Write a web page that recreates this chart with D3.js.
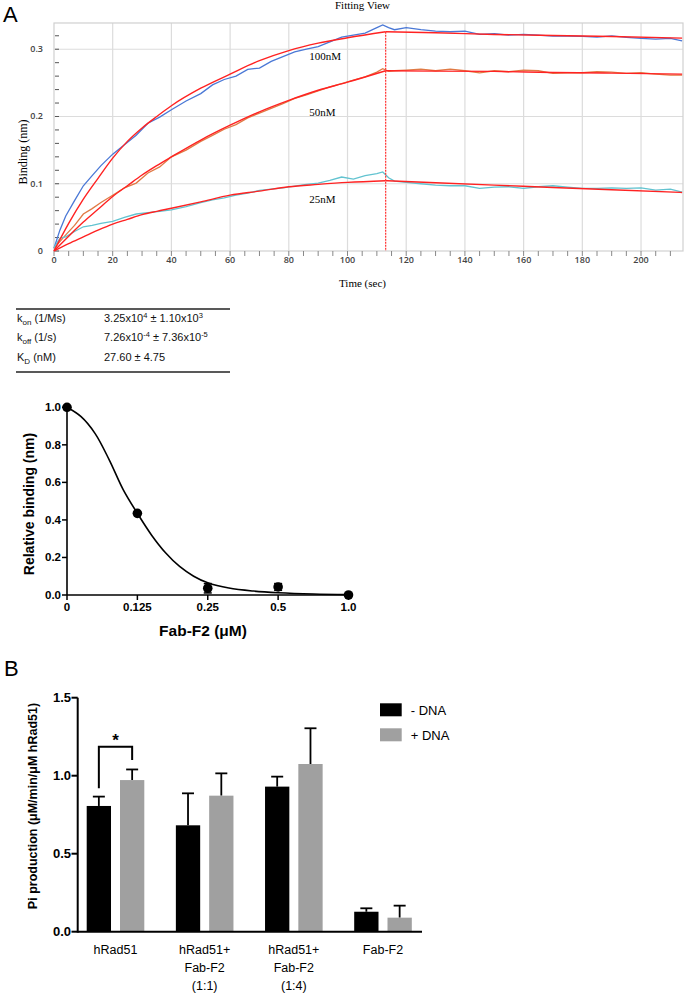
<!DOCTYPE html>
<html><head><meta charset="utf-8">
<script src="https://cdn.jsdelivr.net/npm/d3@7"></script>
<style>body{margin:0;background:#fff}svg{display:block}</style>
</head><body>
<svg id="c" width="685" height="993"></svg>
<script>
// ---------- Panel A (kinetics) data ----------
const kinT = [0,2,4,7,10,13,16,20,24,28,32,36,40,45,50,54,58,62,66,70,74,78,82,86,90,94,98,102,106,110,112,114,116,120,125,130,135,140,145,150,155,160,165,170,175,180,185,190,195,200,205,210,214];
const raw100 = [0.004,0.031,0.052,0.075,0.097,0.112,0.127,0.144,0.158,0.172,0.19,0.199,0.21,0.223,0.234,0.247,0.255,0.26,0.27,0.272,0.282,0.289,0.296,0.3,0.304,0.311,0.318,0.321,0.324,0.332,0.336,0.332,0.329,0.332,0.329,0.327,0.326,0.327,0.322,0.323,0.321,0.322,0.321,0.3195,0.3195,0.319,0.318,0.32,0.3175,0.316,0.315,0.316,0.3125];
const raw50 = [0.004,0.014,0.024,0.038,0.055,0.063,0.072,0.083,0.094,0.101,0.116,0.125,0.14,0.15,0.163,0.172,0.181,0.188,0.198,0.205,0.212,0.219,0.227,0.232,0.238,0.244,0.249,0.254,0.259,0.266,0.271,0.267,0.268,0.269,0.2705,0.268,0.2705,0.268,0.265,0.268,0.2665,0.269,0.268,0.264,0.265,0.265,0.2665,0.266,0.264,0.265,0.263,0.2615,0.2615];
const raw25 = [0.005,0.019,0.021,0.029,0.036,0.038,0.041,0.044,0.05,0.055,0.057,0.059,0.061,0.066,0.072,0.076,0.079,0.083,0.086,0.09,0.092,0.094,0.0965,0.099,0.101,0.105,0.11,0.107,0.112,0.115,0.1175,0.109,0.104,0.102,0.1,0.098,0.097,0.097,0.093,0.095,0.0955,0.093,0.0955,0.097,0.095,0.093,0.093,0.094,0.093,0.094,0.0905,0.092,0.0877];
const fitT = [0,5,10,15,20,25,30,35,40,50,60,70,80,90,100,113,130,150,170,190,214];
const fit100 = [0,0.041,0.077,0.108,0.138,0.163,0.183,0.2,0.216,0.242,0.263,0.283,0.298,0.309,0.317,0.326,0.3245,0.322,0.3205,0.319,0.3165];
const fit50 = [0,0.022,0.043,0.062,0.081,0.097,0.113,0.127,0.14,0.165,0.187,0.207,0.224,0.239,0.251,0.268,0.2675,0.267,0.2655,0.2645,0.263];
const fit25 = [0,0.011,0.021,0.031,0.04,0.047,0.054,0.059,0.0635,0.073,0.083,0.089,0.0955,0.099,0.102,0.1045,0.1015,0.098,0.0945,0.091,0.087];
const switchTime = 113;
const concLabels = ["100nM","50nM","25nM"];
const xTicksKin = [0,20,40,60,80,100,120,140,160,180,200];
const yTicksKin = [0,0.1,0.2,0.3];

// ---------- Table ----------
const tableParams = [["k","on"," (1/Ms)"],["k","off"," (1/s)"],["K","D"," (nM)"]];
const tableValues = [
  [["3.25x10",""],["4","sup"],[" ± 1.10x10",""],["3","sup"]],
  [["7.26x10",""],["-4","sup"],[" ± 7.36x10",""],["-5","sup"]],
  [["27.60 ± 4.75",""]]
];

// ---------- Dose response data ----------
const doseLabels = ["0","0.125","0.25","0.5","1.0"];
const doseMean = [1.0,0.435,0.036,0.043,0.0];
const doseErr = [0,0,0.025,0.018,0];
const doseFitIdx = [0,0.2,0.4,0.6,0.8,1.0,1.2,1.4,1.6,1.8,2.0,2.3,2.65,3.0,3.5,4.0];
const doseFitVal = [1.0,0.95,0.86,0.72,0.56,0.435,0.32,0.225,0.152,0.1,0.065,0.037,0.021,0.012,0.005,0.002];
const doseYTicks = [0,0.2,0.4,0.6,0.8,1.0];

// ---------- Panel B data ----------
const groups = [["hRad51"],["hRad51+","Fab-F2","(1:1)"],["hRad51+","Fab-F2","(1:4)"],["Fab-F2"]];
const minusDNA = [0.806,0.682,0.93,0.128];
const minusErr = [0.06,0.205,0.064,0.022];
const plusDNA = [0.972,0.872,1.075,0.09];
const plusErr = [0.068,0.143,0.229,0.077];
const seriesNames = ["- DNA","+ DNA"];
const barYTicks = [0,0.5,1.0,1.5];

const svg = d3.select("#c");
const SERIF = "'Liberation Serif','Times New Roman',serif";
const SANS = "'Liberation Sans',Arial,Helvetica,sans-serif";

// ================= Panel A top =================
svg.append("text").attr("x",3).attr("y",22).attr("font-family",SANS).attr("font-size",22).text("A");
const kx = d3.scaleLinear().domain([0,214.3]).range([54,683]);
const ky = d3.scaleLinear().domain([0,0.339]).range([251,23]);
const gK = svg.append("g");
gK.selectAll(".vg").data(xTicksKin.slice(1)).join("line")
  .attr("x1",d=>kx(d)).attr("x2",d=>kx(d)).attr("y1",ky(0)).attr("y2",ky(0.339))
  .attr("stroke","#dcdcdc").attr("stroke-width",1.2);
gK.selectAll(".hg").data(yTicksKin.slice(1)).join("line")
  .attr("x1",kx(0)).attr("x2",kx(214.3)).attr("y1",d=>ky(d)).attr("y2",d=>ky(d))
  .attr("stroke","#dcdcdc").attr("stroke-width",1.2);
gK.append("rect").attr("x",kx(0)).attr("y",ky(0.339)).attr("width",kx(214.3)-kx(0)).attr("height",ky(0)-ky(0.339))
  .attr("fill","none").attr("stroke","#d0d0d0").attr("stroke-width",1.2);
const yMinor = d3.range(0,0.34,0.02);
gK.selectAll(".ym").data(yMinor).join("line")
  .attr("x1",kx(0)+1).attr("x2",kx(0)+5).attr("y1",d=>ky(d)).attr("y2",d=>ky(d)).attr("stroke","#555").attr("stroke-width",1);
const xMinor = d3.range(0,215,5);
gK.selectAll(".xm").data(xMinor).join("line")
  .attr("x1",d=>kx(d)).attr("x2",d=>kx(d)).attr("y1",ky(0)).attr("y2",ky(0)+5).attr("stroke","#888").attr("stroke-width",1);
gK.selectAll(".xl").data(xTicksKin).join("text")
  .attr("x",d=>kx(d)).attr("y",263).attr("text-anchor","middle")
  .attr("font-family","'Open Sans',sans-serif").attr("font-weight",600).attr("font-size",9).attr("fill","#444").text(d=>d);
gK.selectAll(".yl").data(yTicksKin).join("text")
  .attr("x",43).attr("y",d=>ky(d)+3).attr("text-anchor","end")
  .attr("font-family","'Open Sans',sans-serif").attr("font-weight",600).attr("font-size",9).attr("fill","#444").text(d=>d===0?"0":d);
gK.append("text").attr("x",335).attr("y",8.5).attr("font-family",SERIF).attr("font-size",11).text("Fitting View");
gK.append("text").attr("x",339).attr("y",287).attr("font-family",SERIF).attr("font-size",11).text("Time (sec)");
gK.append("text").attr("transform","translate(27,152) rotate(-90)").attr("text-anchor","middle")
  .attr("font-family",SERIF).attr("font-size",12).text("Binding (nm)");
const kLine = d3.line().x(d=>kx(d[0])).y(d=>ky(d[1]));
const rawSets = [[raw100,"#4a78d6"],[raw50,"#e07a45"],[raw25,"#62c3d0"]];
rawSets.forEach(([vals,col])=>{
  gK.append("path").datum(kinT.map((t,i)=>[t,vals[i]])).attr("d",kLine)
    .attr("fill","none").attr("stroke",col).attr("stroke-width",1.3);
});
const fLine = d3.line().x(d=>kx(d[0])).y(d=>ky(d[1])).curve(d3.curveMonotoneX);
[fit100,fit50,fit25].forEach(vals=>{
  const pts = fitT.map((t,i)=>[t,vals[i]]);
  gK.append("path").datum(pts.filter(p=>p[0]<=switchTime)).attr("d",fLine)
    .attr("fill","none").attr("stroke","#ff2222").attr("stroke-width",1.4);
  gK.append("path").datum(pts.filter(p=>p[0]>=switchTime)).attr("d",fLine)
    .attr("fill","none").attr("stroke","#ff2222").attr("stroke-width",1.4);
});
gK.append("line").attr("x1",kx(switchTime)).attr("x2",kx(switchTime)).attr("y1",ky(fit100[15])).attr("y2",ky(0))
  .attr("stroke","#ff3030").attr("stroke-width",1.2).attr("stroke-dasharray","2,1");
const labelT = 87, labelY = [0.284,0.2,0.071];
concLabels.forEach((l,i)=>{
  gK.append("text").attr("x",kx(labelT)).attr("y",ky(labelY[i])).attr("font-family",SERIF).attr("font-size",11).text(l);
});

// ================= Table =================
const gT = svg.append("g").attr("font-family",SANS).attr("font-size",11).attr("fill","#111");
gT.append("line").attr("x1",16).attr("x2",230).attr("y1",309).attr("y2",309).attr("stroke","#222").attr("stroke-width",1.3);
gT.append("line").attr("x1",16).attr("x2",230).attr("y1",372).attr("y2",372).attr("stroke","#222").attr("stroke-width",1.3);
const rowY = [322,341,361];
tableParams.forEach((p,i)=>{
  const t = gT.append("text").attr("x",17).attr("y",rowY[i]);
  t.append("tspan").text(p[0]);
  t.append("tspan").attr("font-size",8).attr("dy",2.5).text(p[1]);
  t.append("tspan").attr("dy",-2.5).text(p[2]);
});
tableValues.forEach((parts,i)=>{
  const t = gT.append("text").attr("x",104).attr("y",rowY[i]);
  let shift = 0;
  parts.forEach(([s,kind])=>{
    if(kind==="sup"){ t.append("tspan").attr("font-size",7.5).attr("dy",-4).text(s); shift=4; }
    else { t.append("tspan").attr("dy",shift).text(s); shift=0; }
  });
});

// ================= Dose response =================
const dx = d3.scaleLinear().domain([0,doseLabels.length-1]).range([67,348.5]);
const dy = d3.scaleLinear().domain([0,1]).range([595,407.3]);
const gD = svg.append("g");
gD.append("line").attr("x1",dx(0)).attr("x2",dx(4)+1).attr("y1",dy(0)).attr("y2",dy(0)).attr("stroke","#000").attr("stroke-width",1.6);
gD.append("line").attr("x1",dx(0)).attr("x2",dx(0)).attr("y1",dy(0)).attr("y2",dy(1)).attr("stroke","#000").attr("stroke-width",1.6);
gD.selectAll(".yt").data(doseYTicks).join("line").attr("x1",dx(0)-5).attr("x2",dx(0)).attr("y1",d=>dy(d)).attr("y2",d=>dy(d)).attr("stroke","#000").attr("stroke-width",1.5);
gD.selectAll(".xt").data(doseLabels).join("line").attr("x1",(d,i)=>dx(i)).attr("x2",(d,i)=>dx(i)).attr("y1",dy(0)).attr("y2",dy(0)+5).attr("stroke","#000").attr("stroke-width",1.5);
gD.selectAll(".ytl").data(doseYTicks).join("text").attr("x",61).attr("y",d=>dy(d)+4).attr("text-anchor","end")
  .attr("font-family",SANS).attr("font-weight","bold").attr("font-size",11.5).text(d=>d.toFixed(1));
gD.selectAll(".xtl").data(doseLabels).join("text").attr("x",(d,i)=>dx(i)).attr("y",611).attr("text-anchor","middle")
  .attr("font-family",SANS).attr("font-weight","bold").attr("font-size",11.5).text(d=>d);
gD.append("text").attr("x",203).attr("y",636).attr("text-anchor","middle").attr("font-family",SANS).attr("font-weight","bold").attr("font-size",15.5).text("Fab-F2 (μM)");
gD.append("text").attr("transform","translate(34,504) rotate(-90)").attr("text-anchor","middle").attr("font-family",SANS).attr("font-weight","bold").attr("font-size",14).text("Relative binding (nm)");
const dLine = d3.line().x(d=>dx(d[0])).y(d=>dy(d[1])).curve(d3.curveCatmullRom);
gD.append("path").datum(doseFitIdx.map((v,i)=>[v,doseFitVal[i]])).attr("d",dLine).attr("fill","none").attr("stroke","#000").attr("stroke-width",1.6);
doseMean.forEach((m,i)=>{
  if(doseErr[i]>0){
    gD.append("line").attr("x1",dx(i)).attr("x2",dx(i)).attr("y1",dy(m-doseErr[i])).attr("y2",dy(m+doseErr[i])).attr("stroke","#000").attr("stroke-width",1.5);
    [m-doseErr[i],m+doseErr[i]].forEach(v=>gD.append("line").attr("x1",dx(i)-4).attr("x2",dx(i)+4).attr("y1",dy(v)).attr("y2",dy(v)).attr("stroke","#000").attr("stroke-width",1.5));
  }
  gD.append("circle").attr("cx",dx(i)).attr("cy",dy(m)).attr("r",4.8).attr("fill","#000");
});

// ================= Panel B =================
svg.append("text").attr("x",4).attr("y",676).attr("font-family",SANS).attr("font-size",22).text("B");
const bx0 = d3.scalePoint().domain(d3.range(groups.length)).range([115.5,383]);
const bx1 = d3.scaleBand().domain([0,1]).range([-28.8,28.8]).paddingInner(0.27);
const by = d3.scaleLinear().domain([0,1.5]).range([931.7,697.7]);
const gB = svg.append("g");
const series = [[minusDNA,minusErr,"#000000"],[plusDNA,plusErr,"#a0a0a0"]];
series.forEach(([vals,errs,col],s)=>{
  vals.forEach((v,g)=>{
    const x = bx0(g)+bx1(s), w = bx1.bandwidth(), cx = x+w/2;
    gB.append("line").attr("x1",cx).attr("x2",cx).attr("y1",by(v)).attr("y2",by(v+errs[g])).attr("stroke","#000").attr("stroke-width",1.8);
    gB.append("line").attr("x1",cx-6).attr("x2",cx+6).attr("y1",by(v+errs[g])).attr("y2",by(v+errs[g])).attr("stroke","#000").attr("stroke-width",1.8);
    gB.append("rect").attr("x",x).attr("y",by(v)).attr("width",w).attr("height",by(0)-by(v)).attr("fill",col);
  });
});
gB.append("line").attr("x1",77.7).attr("x2",422).attr("y1",by(0)).attr("y2",by(0)).attr("stroke","#000").attr("stroke-width",2);
gB.append("line").attr("x1",77.7).attr("x2",77.7).attr("y1",by(0)+1).attr("y2",by(1.5)).attr("stroke","#000").attr("stroke-width",2);
gB.selectAll(".bt").data(barYTicks).join("line").attr("x1",71.5).attr("x2",77.7).attr("y1",d=>by(d)).attr("y2",d=>by(d)).attr("stroke","#000").attr("stroke-width",2);
gB.selectAll(".btl").data(barYTicks).join("text").attr("x",71).attr("y",d=>by(d)+4.5).attr("text-anchor","end")
  .attr("font-family",SANS).attr("font-weight","bold").attr("font-size",13).text(d=>d.toFixed(1));
gB.append("text").attr("transform","translate(37,806) rotate(-90)").attr("text-anchor","middle")
  .attr("font-family",SANS).attr("font-weight","bold").attr("font-size",12.5).text("Pi production (μM/min/μM hRad51)");
groups.forEach((lines,g)=>{
  lines.forEach((l,j)=>{
    gB.append("text").attr("x",bx0(g)).attr("y",954+18*j).attr("text-anchor","middle")
      .attr("font-family",SANS).attr("font-size",12.5).text(l);
  });
});
const bL = bx0(0)+bx1(0)+bx1.bandwidth()/2, bR = bx0(0)+bx1(1)+bx1.bandwidth()/2;
gB.append("path").attr("d",`M${bL},${by(0.92)}V${by(1.186)}H${bR}V${by(1.10)}`).attr("fill","none").attr("stroke","#000").attr("stroke-width",2);
gB.append("text").attr("x",(bL+bR)/2).attr("y",by(1.186)-1).attr("text-anchor","middle").attr("font-family",SANS).attr("font-weight","bold").attr("font-size",17).text("*");
seriesNames.forEach((n,i)=>{
  gB.append("rect").attr("x",380).attr("y",703.3+25*i).attr("width",21.7).attr("height",13).attr("fill",series[i][2]);
  gB.append("text").attr("x",410.7).attr("y",714.5+25*i).attr("font-family",SANS).attr("font-size",13).text(n);
});
</script>
</body></html>
